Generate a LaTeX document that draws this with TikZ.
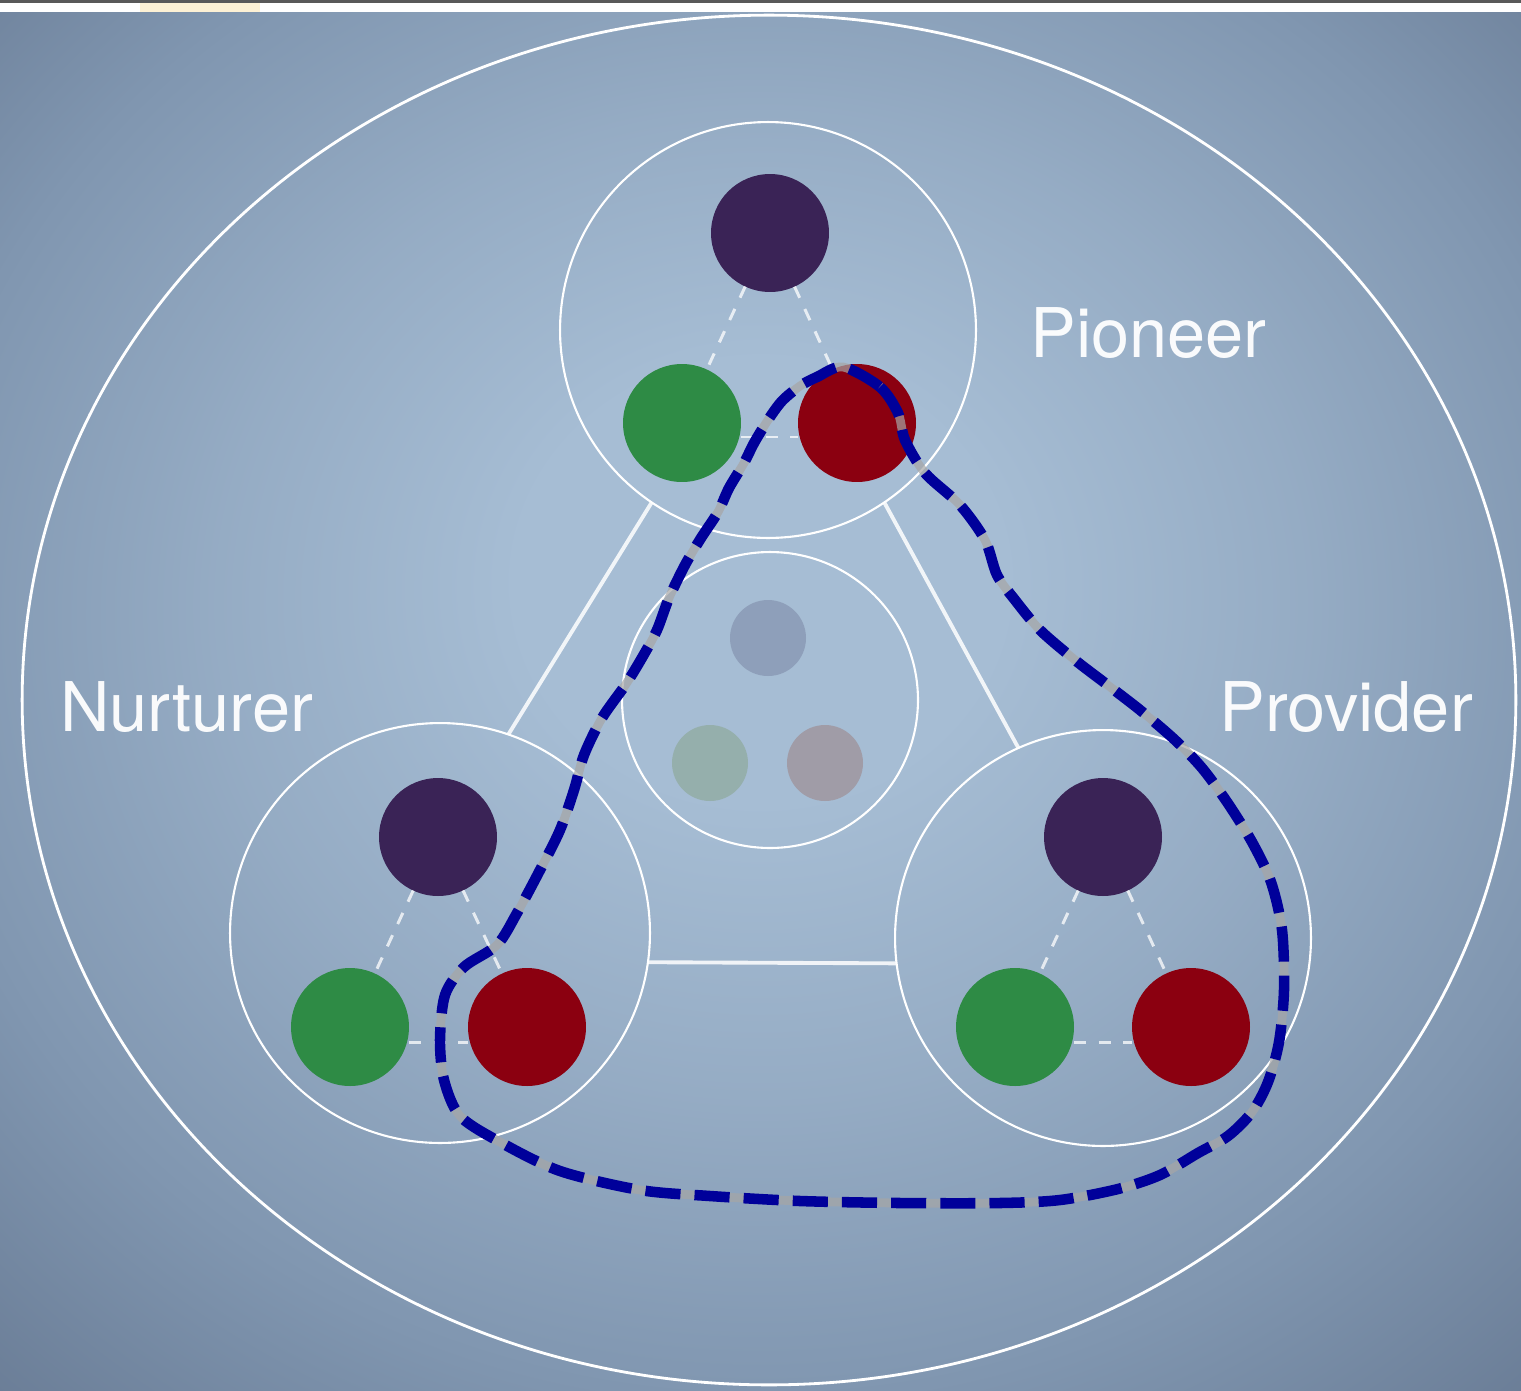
\documentclass[tikz,border=0pt]{standalone}
\usepackage{fontspec}
\setmainfont{TeX Gyre Heros}
\usetikzlibrary{shapes.geometric}
\definecolor{bgin}{HTML}{A6BDD4}
\definecolor{bgmid}{HTML}{8096B0}
\definecolor{bgout}{HTML}{5F7089}
\definecolor{dpurple}{HTML}{3A2356}
\definecolor{dgreen}{HTML}{2E8B45}
\definecolor{dred}{HTML}{8B0010}
\definecolor{fpurple}{HTML}{8E9FBA}
\definecolor{fgreen}{HTML}{95AFAC}
\definecolor{fred}{HTML}{A09CA7}
\definecolor{navyline}{HTML}{00009A}
\pgfdeclareradialshading{bgshade}{\pgfpoint{0bp}{5bp}}{color(0bp)=(bgin); color(8bp)=(bgin); color(18bp)=(bgin!55!bgmid); color(28bp)=(bgmid); color(42bp)=(bgout); color(60bp)=(bgout)}
\tikzset{
  cluster/.style={circle, draw=white, line width=1.2pt, inner sep=0pt, outer sep=0pt},
  dot/.style={circle, inner sep=0pt, outer sep=0pt, minimum size=2.36cm},
  fdot/.style={circle, inner sep=0pt, outer sep=0pt, minimum size=1.52cm},
  link/.style={draw=white, line width=2.2pt, opacity=0.85},
  innerdash/.style={draw=white, line width=1.7pt, opacity=0.75, dash pattern=on 7pt off 7pt},
  label/.style={text=white, font=\fontsize{39}{47}\selectfont, inner sep=0pt, opacity=0.95},
}
\begin{document}
\begin{tikzpicture}[x=0.02cm,y=-0.02cm]
\useasboundingbox (0,0) rectangle (1521,1390);
% background
\shade[shading=bgshade] (0,12) rectangle (1521,1390);
\fill[white] (0,2) rectangle (1521,12);
\fill[yellow!40!orange!30!white, opacity=0.5] (140,2) rectangle (260,12);
\fill[gray!70!black] (0,0) rectangle (1521,2.5);
% outer ellipse
\node[ellipse, draw=white, line width=1.6pt, inner sep=0pt, minimum width=29.88cm, minimum height=27.4cm] (outer) at (769,700) {};
% cluster circles
\node[cluster, minimum size=8.32cm] (top) at (768,330) {};
\node[cluster, minimum size=5.92cm] (mid) at (770,700) {};
\node[cluster, minimum size=8.4cm] (left) at (440,933) {};
\node[cluster, minimum size=8.32cm] (right) at (1103,938) {};
% connectors between clusters
\draw[link] (top.236) -- (left.71);
\draw[link] (top.304) -- (right.114);
\draw[link] (left.-8.6) -- (right.187.5);
% dots top
\node[dot, fill=dpurple] (tp) at (770,233) {};
\node[dot, fill=dgreen] (tg) at (682,423) {};
\node[dot, fill=dred] (tr) at (857,423) {};
% dots left
\node[dot, fill=dpurple] (lp) at (438,837) {};
\node[dot, fill=dgreen] (lg) at (350,1027) {};
\node[dot, fill=dred] (lr) at (527,1027) {};
% dots right
\node[dot, fill=dpurple] (rp) at (1103,837) {};
\node[dot, fill=dgreen] (rg) at (1015,1027) {};
\node[dot, fill=dred] (rr) at (1191,1027) {};
% faint dots middle
\node[fdot, fill=fpurple] (mp) at (768,638) {};
\node[fdot, fill=fgreen] (mg) at (710,763) {};
\node[fdot, fill=fred] (mr) at (825,763) {};
% inner dashed links
\draw[innerdash] (tp) -- (tg);
\draw[innerdash] (tp) -- (tr);
\draw[innerdash] ([yshift=-0.28cm]tg.east) -- ([yshift=-0.28cm]tr.west);
\draw[innerdash] (lp) -- (lg);
\draw[innerdash] (lp) -- (lr);
\draw[innerdash] ([yshift=-0.3cm]lg.east) -- ([yshift=-0.3cm]lr.west);
\draw[innerdash] (rp) -- (rg);
\draw[innerdash] (rp) -- (rr);
\draw[innerdash] ([yshift=-0.3cm]rg.east) -- ([yshift=-0.3cm]rr.west);
% labels
\node[label, anchor=base west] (pioneer) at (1030,357) {Pioneer};
\node[label, anchor=base west] (nurturer) at (60,731) {Nurturer};
\node[label, anchor=base west] (provider) at (1219,731) {Provider};
% blue dashed loop
\def\looppts{(843,367) (880,387) (898,413) (905,440) (925,473) (960,505) (985,540) (997,575) (1015,600) (1040,630) (1075,660) (1105,683) (1140,710) (1175,740) (1202,768) (1227,802) (1252,842) (1271,882) (1282,930) (1284,990) (1279,1042) (1268,1082) (1252,1112) (1228,1136) (1198,1153) (1160,1175) (1118,1189) (1060,1200) (1000,1203) (900,1203) (800,1201) (710,1196) (640,1190) (560,1171) (500,1142) (460,1116) (444,1080) (440,1040) (445,995) (464,967) (497,945) (517,913) (540,870) (560,830) (574,790) (584,755) (602,718) (626,684) (643,656) (657,630) (669,598) (685,565) (701,538) (718,512) (729,488) (744,463) (754,443) (768,420) (782,401) (800,386) (817,377)}
\draw[gray!70, line width=5pt, opacity=0.7] plot[smooth cycle, tension=0.5] coordinates {\looppts};
\draw[navyline, line width=6pt, dash pattern=on 20pt off 8pt] plot[smooth cycle, tension=0.5] coordinates {\looppts};
\end{tikzpicture}
\end{document}
